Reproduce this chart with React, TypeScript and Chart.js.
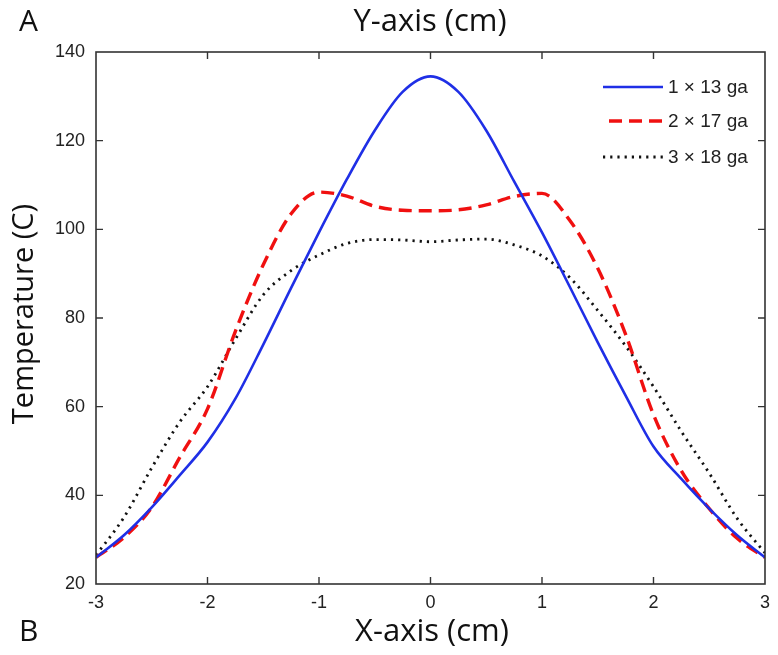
import React, { useEffect, useRef } from "react";
import { Chart, registerables } from "chart.js";

Chart.register(...registerables);

const xValues = [-3, -2.75, -2.5, -2.25, -2, -1.75, -1.5, -1.25, -1, -0.75, -0.5, -0.25, 0, 0.25, 0.5, 0.75, 1, 1.25, 1.5, 1.75, 2, 2.25, 2.5, 2.75, 3];

const series13ga = [26, 31, 37.3, 44.5, 52, 61.8, 74, 86.8, 99.3, 111.3, 122.3, 131, 134.5, 131, 122.3, 110.8, 99.3, 87, 74.5, 62.5, 51, 43.7, 37, 31, 26];
const series17ga = [26, 30.5, 37.3, 48.5, 59.5, 77, 92, 103.5, 108.4, 107.5, 105.2, 104.3, 104.2, 104.4, 105.5, 107.4, 108.1, 102, 91.2, 76.3, 58.2, 45.5, 37, 30.3, 26];
const series18ga = [26.5, 35, 46.2, 56.5, 64.5, 75.2, 85.2, 90.7, 94.2, 96.8, 97.7, 97.6, 97.2, 97.6, 97.8, 96.5, 94, 89.1, 81.7, 73.7, 64.5, 54.4, 45, 34.8, 27];

const seriesLabels = ["1 \u00d7 13 ga", "2 \u00d7 17 ga", "3 \u00d7 18 ga"];
const xTickValues = [-3, -2, -1, 0, 1, 2, 3];
const yTickValues = [20, 40, 60, 80, 100, 120, 140];

const topTitle = "Y-axis (cm)";
const bottomTitle = "X-axis (cm)";
const yTitle = "Temperature (C)";
const panelA = "A";
const panelB = "B";

const toPoints = (ys: number[]) => ys.map((y, i) => ({ x: xValues[i], y }));

const framePlugin = {
  id: "frameTicks",
  afterDraw(chart: any) {
    const { ctx, chartArea } = chart;
    const { left, right, top, bottom } = chartArea;
    const xs = chart.scales.x;
    const ys = chart.scales.y;
    ctx.save();
    ctx.strokeStyle = "#333";
    ctx.lineWidth = 1.6;
    ctx.strokeRect(left, top, right - left, bottom - top);
    ctx.lineWidth = 1.4;
    const tl = 7;
    ctx.beginPath();
    xTickValues.forEach((v) => {
      const px = xs.getPixelForValue(v);
      if (v === xs.min || v === xs.max) return;
      ctx.moveTo(px, bottom);
      ctx.lineTo(px, bottom - tl);
      ctx.moveTo(px, top);
      ctx.lineTo(px, top + tl);
    });
    yTickValues.forEach((v) => {
      const py = ys.getPixelForValue(v);
      if (v === ys.min || v === ys.max) return;
      ctx.moveTo(left, py);
      ctx.lineTo(left + tl, py);
      ctx.moveTo(right, py);
      ctx.lineTo(right - tl, py);
    });
    ctx.stroke();

    // legend
    const legX0 = 603;
    const legX1 = 663;
    const legY = [87, 121, 157];
    chart.data.datasets.forEach((ds: any, i: number) => {
      ctx.beginPath();
      ctx.strokeStyle = ds.borderColor;
      ctx.lineWidth = ds.borderWidth;
      ctx.setLineDash(ds.borderDash || []);
      ctx.lineDashOffset = 0;
      const start = i === 1 ? 609 : legX0;
      ctx.moveTo(start, legY[i]);
      ctx.lineTo(legX1, legY[i]);
      ctx.stroke();
      ctx.setLineDash([]);
      ctx.fillStyle = "#222";
      ctx.font = "19px 'Liberation Sans', Arial, sans-serif";
      ctx.textAlign = "left";
      ctx.textBaseline = "middle";
      ctx.fillText(ds.label, 668, legY[i] + 1);
    });

    // titles
    ctx.fillStyle = "#111";
    ctx.font = "30px 'Open Sans', sans-serif";
    ctx.textBaseline = "middle";
    ctx.textAlign = "left";
    ctx.fillText(panelA, 19, 22);
    ctx.fillText(panelB, 19, 632);
    ctx.textAlign = "center";
    ctx.font = "31px 'Open Sans', sans-serif";
    ctx.fillText(topTitle, 430, 22);
    ctx.fillText(bottomTitle, 432, 632);
    ctx.save();
    ctx.translate(25, 314);
    ctx.rotate(-Math.PI / 2);
    ctx.font = "29px 'Open Sans', sans-serif";
    ctx.fillText(yTitle, 0, 0);
    ctx.restore();
    ctx.restore();
  },
};

export default function App() {
  const ref = useRef<HTMLCanvasElement | null>(null);
  useEffect(() => {
    if (!ref.current) return;
    const tickFont = { family: "'Liberation Sans', Arial, sans-serif", size: 18 };
    const chart = new Chart(ref.current, {
      type: "line",
      data: {
        datasets: [
          {
            label: seriesLabels[0],
            data: toPoints(series13ga),
            borderColor: "#1f2fe6",
            borderWidth: 2.6,
            pointRadius: 0,
            fill: false,
            cubicInterpolationMode: "monotone",
          },
          {
            label: seriesLabels[1],
            data: toPoints(series17ga),
            borderColor: "#f01010",
            borderWidth: 3.4,
            borderDash: [13, 7],
            pointRadius: 0,
            fill: false,
            cubicInterpolationMode: "monotone",
          },
          {
            label: seriesLabels[2],
            data: toPoints(series18ga),
            borderColor: "#111",
            borderWidth: 2.8,
            borderDash: [2.2, 5],
            pointRadius: 0,
            fill: false,
            cubicInterpolationMode: "monotone",
          },
        ],
      },
      options: {
        responsive: false,
        animation: false,
        layout: { padding: { top: 52, right: 11, left: 0, bottom: 0 } },
        plugins: { legend: { display: false }, tooltip: { enabled: false }, title: { display: false } },
        scales: {
          x: {
            type: "linear",
            min: -3,
            max: 3,
            afterBuildTicks: (s: any) => {
              s.ticks = xTickValues.map((v) => ({ value: v }));
            },
            afterFit: (s: any) => {
              s.height = 71;
            },
            ticks: { font: tickFont, color: "#222", padding: 8, maxRotation: 0 },
            grid: { display: false, drawTicks: false },
            border: { display: false },
          },
          y: {
            type: "linear",
            min: 20,
            max: 140,
            afterBuildTicks: (s: any) => {
              s.ticks = yTickValues.map((v) => ({ value: v }));
            },
            afterFit: (s: any) => {
              s.width = 96;
            },
            ticks: { font: tickFont, color: "#222", padding: 11 },
            grid: { display: false, drawTicks: false },
            border: { display: false },
          },
        },
      },
      plugins: [framePlugin],
    } as any);
    return () => chart.destroy();
  }, []);
  return (
    <div style={{ position: "absolute", left: 0, top: 0, width: 778, height: 655, background: "#fff" }}>
      <canvas ref={ref} width={778} height={655} style={{ display: "block" }} />
    </div>
  );
}
